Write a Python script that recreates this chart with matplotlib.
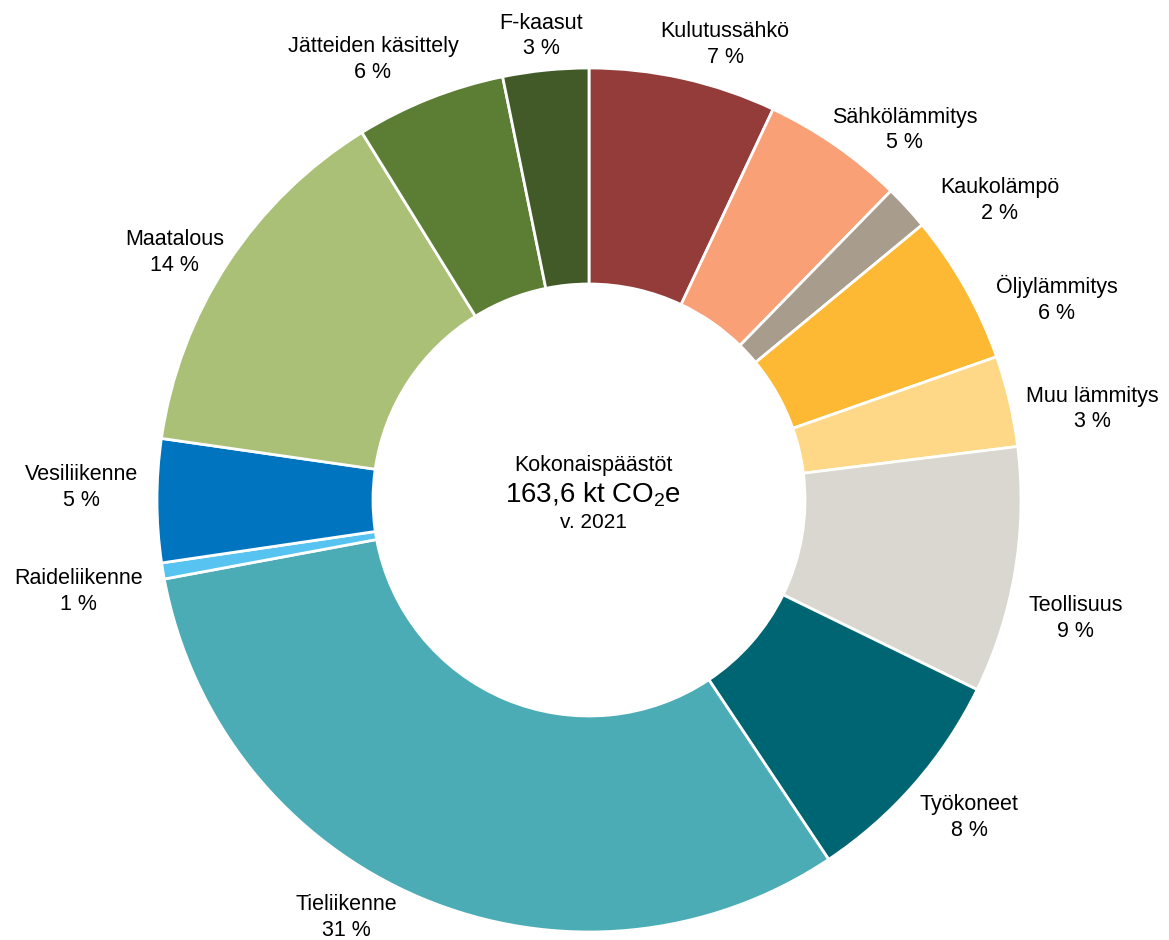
import numpy as np
import matplotlib
matplotlib.use("Agg")
import matplotlib.pyplot as plt

plt.rcParams['font.family'] = ['Liberation Sans', 'DejaVu Sans']
plt.rcParams['mathtext.fontset'] = 'custom'
plt.rcParams['mathtext.rm'] = 'Liberation Sans'

# emission shares (%), clockwise from 12 o'clock
sectors = ["Kulutussähkö", "Sähkölämmitys", "Kaukolämpö", "Öljylämmitys",
           "Muu lämmitys", "Teollisuus", "Työkoneet", "Tieliikenne",
           "Raideliikenne", "Vesiliikenne", "Maatalous", "Jätteiden käsittely",
           "F-kaasut"]
shares = [7.0, 5.3, 1.7, 5.6, 3.4, 9.2, 8.4, 31.4, 0.6, 4.6, 13.9, 5.6, 3.2]
colors = ["#943C39", "#F9A077", "#A89C8C", "#FDB933", "#FED887", "#D9D7CF",
          "#006572", "#4BACB6", "#56C3F1", "#0074BF", "#ABC077", "#5B7D34",
          "#415A28"]
total_text = r"163,6 kt CO$_\mathregular{2}$e"
year_text = "v. 2021"

# small hand nudges for the outside labels (px: right, down)
nudge = [(25, 1), (21, 14), (40, 17), (28, 30), (7, 16), (2, 42), (9, 10),
         (-50, -13), (-9, 15), (-7, -13), (-2, 9), (-21, -6), (1, 1)]

W, H = 1169, 940
fig = plt.figure(figsize=(W / 100, H / 100), dpi=100)
ax = fig.add_axes([0, 0, 1, 1])

cx, cy = 589, 440   # centre (pixel units, y up)
R = 432

ax.pie(shares, colors=colors, startangle=90, counterclock=False,
       radius=R, center=(cx, cy),
       wedgeprops=dict(width=216, edgecolor="white", linewidth=2))
ax.set_xlim(0, W)
ax.set_ylim(0, H)
ax.set_aspect("equal")
ax.axis("off")

# centre text
ax.text(cx + 4, cy + 34, "Kokonaispäästöt", ha="center", va="center", fontsize=15.5)
ax.text(cx + 4, cy + 5, total_text, ha="center", va="center", fontsize=20)
ax.text(cx + 4, cy - 23, year_text, ha="center", va="center", fontsize=15)

# outside labels
tot = sum(shares)
cum = np.cumsum([0] + shares[:-1])
texts, angs = [], []
for name, s, c0 in zip(sectors, shares, cum):
    th = np.deg2rad((c0 + s / 2) / tot * 360)
    pct = round(s / tot * 100)
    t = ax.text(0, 0, f"{name}\n{pct} %", ha="center", va="center",
                fontsize=15.5, linespacing=1.3, multialignment="center")
    texts.append(t)
    angs.append(th)

fig.canvas.draw()
rend = fig.canvas.get_renderer()
r_lab = R + 12
for t, th, (dx, dy) in zip(texts, angs, nudge):
    bb = t.get_window_extent(rend)
    px = cx + r_lab * np.sin(th) + bb.width / 2 * np.sin(th) + dx
    py = cy + r_lab * np.cos(th) + bb.height / 2 * np.cos(th) - dy
    t.set_position((px, py))

fig.savefig("out.png", dpi=100)
